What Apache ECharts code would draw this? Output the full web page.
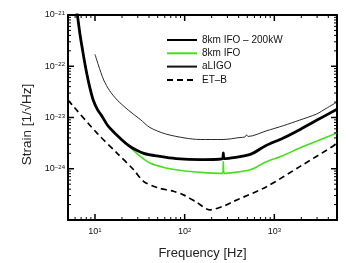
<!DOCTYPE html>
<html><head><meta charset="utf-8">
<script src="https://cdn.jsdelivr.net/npm/echarts@6/dist/echarts.min.js"></script>
<style>html,body{margin:0;padding:0;background:#fff}#c{width:350px;height:263px}</style>
</head><body><div id="c"></div>
<script>
// ---- data ----
const seriesNames = ['8km IFO \u2013 200kW', '8km IFO', 'aLIGO', 'ET\u2013B'];

const freqBlack = [6.0, 6.34, 6.78, 7.26, 7.83, 8.53, 9.55, 10.7, 11.8, 14.2, 20, 24.8, 35, 53, 80, 150, 265, 270, 275, 540, 800, 1260, 2000, 3000, 5000];
const strainBlack = [1.6e-21, 1.02e-21, 4.37e-22, 2.09e-22, 9.77e-23, 4.68e-23, 2.19e-23, 1.41e-23, 1.10e-23, 6.61e-24, 3.63e-24, 2.69e-24, 2.0e-24, 1.74e-24, 1.58e-24, 1.51e-24, 1.58e-24, 2.04e-24, 1.58e-24, 1.91e-24, 2.82e-24, 3.98e-24, 6.03e-24, 8.91e-24, 1.45e-23];

const freqGreen = [6.0, 6.34, 6.78, 7.26, 7.83, 8.53, 9.55, 10.7, 11.8, 14.2, 20, 24.8, 30, 41, 60, 97, 150, 265, 270, 275, 540, 800, 1260, 2000, 3000, 5000];
const strainGreen = [1.6e-21, 1.02e-21, 4.37e-22, 2.09e-22, 9.77e-23, 4.68e-23, 2.19e-23, 1.41e-23, 1.10e-23, 6.61e-24, 3.63e-24, 2.63e-24, 1.91e-24, 1.29e-24, 1.05e-24, 9.12e-25, 8.51e-25, 8.13e-25, 1.38e-24, 8.13e-25, 9.55e-25, 1.35e-24, 1.82e-24, 2.63e-24, 3.47e-24, 5.01e-24];

const freqLigo = [10, 10.9, 12.5, 14.5, 17.7, 23.8, 32, 41, 61, 101, 149, 268, 414, 470, 490, 510, 818, 1260, 1920, 2960, 3800, 5000];
const strainLigo = [1.71e-22, 1.06e-22, 5.40e-23, 3.37e-23, 2.19e-23, 1.37e-23, 9.15e-24, 6.38e-24, 4.79e-24, 3.98e-24, 3.72e-24, 3.72e-24, 4.07e-24, 4.17e-24, 4.57e-24, 4.27e-24, 5.50e-24, 6.92e-24, 8.91e-24, 1.17e-23, 1.51e-23, 2.0e-23];

const freqEtb = [5, 5.8, 10.6, 17.7, 27, 35, 50, 75, 97, 137, 190, 290, 348, 818, 1920, 4500, 5000];
const strainEtb = [2.19e-23, 1.62e-23, 4.90e-24, 2.0e-24, 9.55e-25, 5.62e-25, 4.27e-25, 3.63e-25, 3.09e-25, 2.19e-25, 1.58e-25, 1.95e-25, 2.29e-25, 4.47e-25, 1.10e-24, 2.75e-24, 3.16e-24];

// axis ranges and tick labels
const X_MIN = 5, X_MAX = 5000, Y_MIN = 1e-25, Y_MAX = 1e-21;
const xTickValues = [10, 100, 1000];
const xTickExps = ['1', '2', '3'];
const yTickValues = [1e-25, 1e-24, 1e-23, 1e-22, 1e-21];
const yTickExps = ['\u221225', '\u221224', '\u221223', '\u221222', '\u221221'];

// ---- layout ----
const GRID = { left: 68, right: 13, top: 15, bottom: 43 };
const CW = 350, CH = 263;

// ---- helpers ----
const L = Math.log10;
const pairs = (xs, ys) => xs.map((x, i) => [x, ys[i]]);
function decadeLabel(values, exps) {
  return function (v) {
    for (let i = 0; i < values.length; i++) {
      if (Math.abs(L(v) - L(values[i])) < 1e-6) return '{b|10}{s|' + exps[i] + '}';
    }
    return '';
  };
}
const font = 'Liberation Sans, Arial, Helvetica, sans-serif';
const richLbl = {
  b: { fontSize: 9, lineHeight: 9, padding: [5, 0, 5, 0], color: '#111', fontFamily: font },
  s: { fontSize: 6, lineHeight: 6, verticalAlign: 'top', color: '#111', fontFamily: font }
};

// log-spaced tick positions (decades = major, 2..9 = minor)
const xMajor = [], xMinor = [], yMajor = [], yMinor = [];
for (let e = 0; e <= 3; e++) for (let k = 1; k <= 9; k++) {
  const v = k * Math.pow(10, e); if (v > X_MIN && v < X_MAX) (k === 1 ? xMajor : xMinor).push(v);
}
for (let e = -25; e <= -22; e++) for (let k = 1; k <= 9; k++) {
  const lv = e + L(k); if (lv > -25 + 1e-9 && lv < -21 - 1e-9) (k === 1 ? yMajor : yMinor).push(k * Math.pow(10, e));
}
// tick length (px) expressed as a factor along each log axis
const xDecPerPx = (L(X_MAX) - L(X_MIN)) / (CW - GRID.left - GRID.right);
const yDecPerPx = (L(Y_MAX) - L(Y_MIN)) / (CH - GRID.top - GRID.bottom);
const tickSeriesList = [];
function tickSeg(a, b, width) {
  tickSeriesList.push({ type: 'line', data: [a, b], symbol: 'none', showSymbol: false, silent: true, clip: false,
    legendHoverLink: false, z: 3, lineStyle: { color: '#000', width: width } });
}
function addXTicks(list, lenPx, width) {
  const f = Math.pow(10, lenPx * yDecPerPx);
  list.forEach(function (v) { tickSeg([v, Y_MIN], [v, Y_MIN * f], width); tickSeg([v, Y_MAX], [v, Y_MAX / f], width); });
}
function addYTicks(list, lenPx, width) {
  const f = Math.pow(10, lenPx * xDecPerPx);
  list.forEach(function (v) { tickSeg([X_MIN, v], [X_MIN * f, v], width); tickSeg([X_MAX, v], [X_MAX / f, v], width); });
}
addXTicks(xMajor, 6, 1.5); addXTicks(xMinor, 3, 1);
addYTicks(yMajor, 6, 1.5); addYTicks(yMinor, 3, 1);

const frameLine = { show: true, onZero: false, lineStyle: { color: '#000', width: 2 } };

const chart = echarts.init(document.getElementById('c'), null, { renderer: 'canvas' });
chart.setOption({
  animation: false,
  backgroundColor: '#fff',
  textStyle: { fontFamily: font },
  grid: { left: GRID.left, right: GRID.right, top: GRID.top, bottom: GRID.bottom, containLabel: false, outerBoundsMode: 'none' },
  legend: {
    data: seriesNames,
    orient: 'vertical', left: 161, top: 30,
    itemWidth: 30, itemHeight: 10, itemGap: 3.3,
    itemStyle: { opacity: 0 },
    textStyle: { fontSize: 10, color: '#111', fontFamily: font },
    selectedMode: false
  },
  xAxis: [{
    type: 'log', logBase: 10, min: X_MIN, max: X_MAX, splitNumber: 3, position: 'bottom',
    axisLine: frameLine, axisTick: { show: false }, splitLine: { show: false },
    axisLabel: { formatter: decadeLabel(xTickValues, xTickExps), rich: richLbl, margin: 7 },
    name: 'Frequency [Hz]', nameLocation: 'middle', nameGap: 27, nameMoveOverlap: false,
    nameTextStyle: { fontSize: 13, color: '#222', fontFamily: font }
  }, {
    type: 'log', logBase: 10, min: X_MIN, max: X_MAX, splitNumber: 3, position: 'top',
    axisLine: frameLine, axisTick: { show: false }, axisLabel: { show: false }, splitLine: { show: false }
  }],
  yAxis: [{
    type: 'log', logBase: 10, min: Y_MIN, max: Y_MAX, splitNumber: 4, position: 'left',
    axisLine: frameLine, axisTick: { show: false }, splitLine: { show: false },
    axisLabel: { formatter: decadeLabel(yTickValues, yTickExps), rich: richLbl, margin: 3 },
    name: 'Strain [1/\u221aHz]', nameLocation: 'middle', nameGap: 34, nameMoveOverlap: false,
    nameTextStyle: { fontSize: 13.5, color: '#222', fontFamily: font, padding: [0, 14, 0, 0] }
  }, {
    type: 'log', logBase: 10, min: Y_MIN, max: Y_MAX, splitNumber: 4, position: 'right',
    axisLine: frameLine, axisTick: { show: false }, axisLabel: { show: false }, splitLine: { show: false }
  }],
  series: [
    { name: seriesNames[3], type: 'line', data: pairs(freqEtb, strainEtb), symbol: 'none', showSymbol: false, smooth: 0.3,
      lineStyle: { color: '#000', width: 1.7, type: [6, 4] }, itemStyle: { color: '#000' } },
    { name: seriesNames[2], type: 'line', data: pairs(freqLigo, strainLigo), symbol: 'none', showSymbol: false, smooth: 0.3,
      lineStyle: { color: '#111', width: 0.9 }, itemStyle: { color: '#111' } },
    { name: seriesNames[1], type: 'line', data: pairs(freqGreen, strainGreen), symbol: 'none', showSymbol: false, smooth: 0.3,
      lineStyle: { color: '#44e01c', width: 1.6 }, itemStyle: { color: '#44e01c' } },
    { name: seriesNames[0], type: 'line', data: pairs(freqBlack, strainBlack), symbol: 'none', showSymbol: false, smooth: 0.3,
      lineStyle: { color: '#000', width: 2.8 }, itemStyle: { color: '#000' } }
  ].concat(tickSeriesList)
});
</script>
</body></html>
